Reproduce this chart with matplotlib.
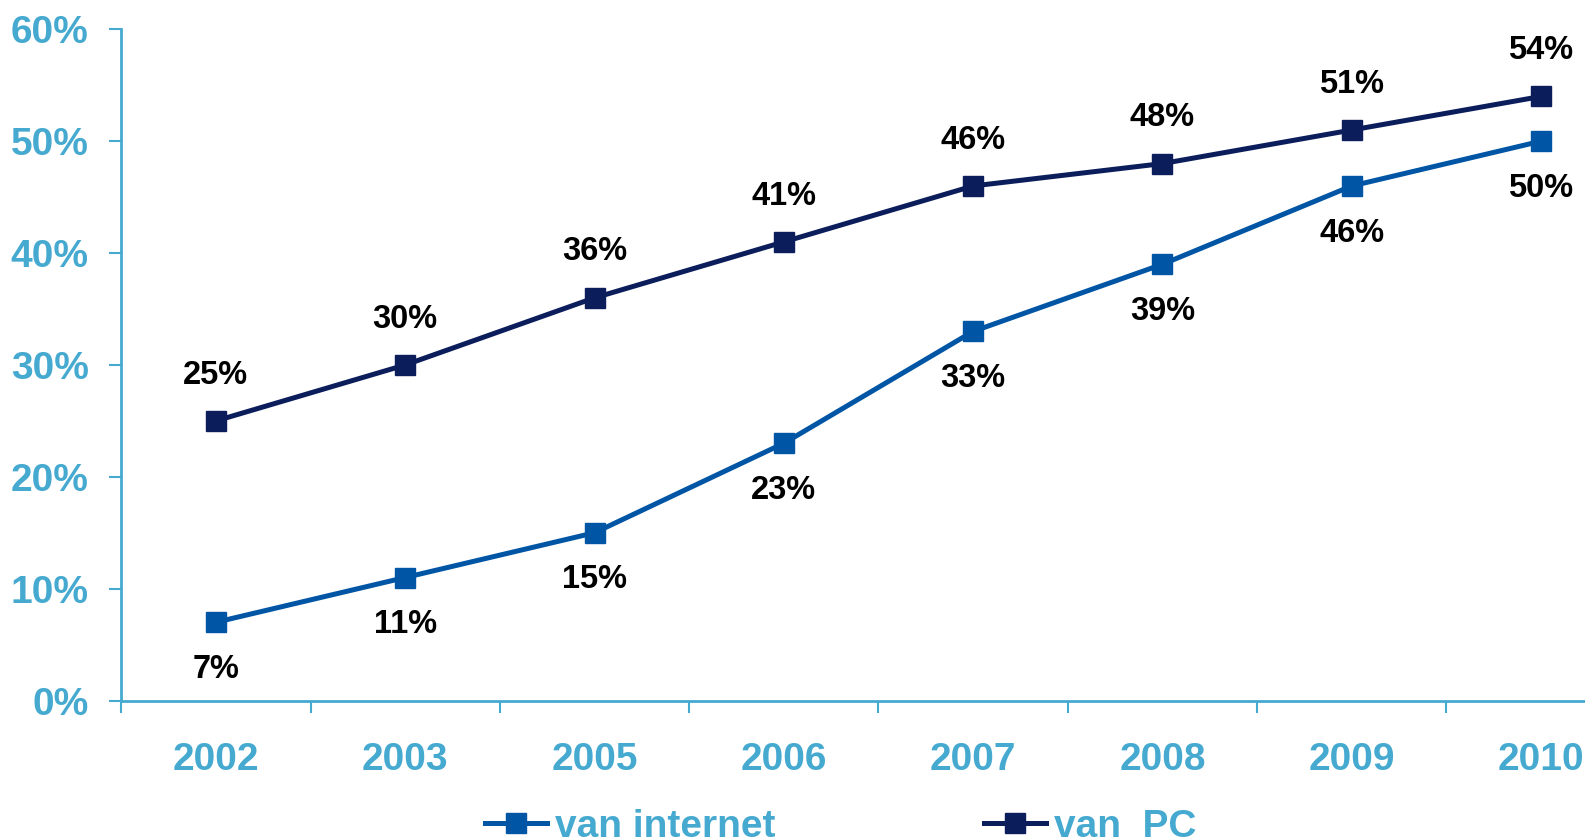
import matplotlib
matplotlib.use("Agg")
import matplotlib.pyplot as plt
from matplotlib.ticker import FixedLocator, PercentFormatter

years = ["2002", "2003", "2005", "2006", "2007", "2008", "2009", "2010"]
van_internet = [7, 11, 15, 23, 33, 39, 46, 50]
van_pc = [25, 30, 36, 41, 46, 48, 51, 54]
yticks = [0, 10, 20, 30, 40, 50, 60]

AXIS_BLUE = "#45a9d0"
INTERNET_BLUE = "#0055a5"
PC_NAVY = "#0b1e5b"

plt.rcParams["font.family"] = ["Liberation Sans", "DejaVu Sans"]
plt.rcParams["font.weight"] = "bold"

fig = plt.figure(figsize=(15.85, 8.38), dpi=100)
# axes deliberately runs past the right edge, like the original slide
ax = fig.add_axes([0.0765, 0.164, 0.9555, 0.801])

x = list(range(len(years)))
ax.plot(x, van_internet, "s-", color=INTERNET_BLUE, lw=3.6, ms=14, label="van internet")
ax.plot(x, van_pc, "s-", color=PC_NAVY, lw=3.6, ms=14, label="van  PC")

for xi, v in zip(x, van_pc):
    ax.annotate(f"{v}%", (xi, v), xytext=(0, 33), textcoords="offset points",
                ha="center", va="center", fontsize=23.5, fontweight="bold", color="black")
for xi, v in zip(x, van_internet):
    ax.annotate(f"{v}%", (xi, v), xytext=(0, -34), textcoords="offset points",
                ha="center", va="center", fontsize=23.5, fontweight="bold", color="black")

ax.set_xlim(-0.5, len(years) - 0.5)
ax.set_ylim(0, 60)

for side in ["top", "right"]:
    ax.spines[side].set_visible(False)
for side in ["left", "bottom"]:
    ax.spines[side].set_color(AXIS_BLUE)
    ax.spines[side].set_linewidth(2)

ax.set_yticks(yticks)
ax.yaxis.set_major_formatter(PercentFormatter(decimals=0))
ax.tick_params(axis="y", colors=AXIS_BLUE, labelsize=28, length=8.5, width=1.5, pad=15)

# ticks sit between the categories, labels in the middle
ax.xaxis.set_major_locator(FixedLocator([i - 0.5 for i in range(len(years) + 1)]))
ax.xaxis.set_minor_locator(FixedLocator(x))
ax.set_xticklabels([], minor=False)
ax.set_xticklabels(years, minor=True)
ax.tick_params(axis="x", which="major", colors=AXIS_BLUE, length=8.5, width=1.5)
ax.tick_params(axis="x", which="minor", colors=AXIS_BLUE, labelsize=28, length=0, pad=30)
for lbl in ax.get_xticklabels(minor=True) + ax.get_yticklabels():
    lbl.set_fontweight("bold")

leg = fig.legend(loc="center left", bbox_to_anchor=(0.306, 0.013), ncol=2,
                 frameon=False, fontsize=28, handlelength=1.6, handletextpad=0.2,
                 columnspacing=5.35, borderpad=0, borderaxespad=0)
for t in leg.get_texts():
    t.set_color(AXIS_BLUE)
    t.set_fontweight("bold")

fig.savefig("out.png", dpi=100)
